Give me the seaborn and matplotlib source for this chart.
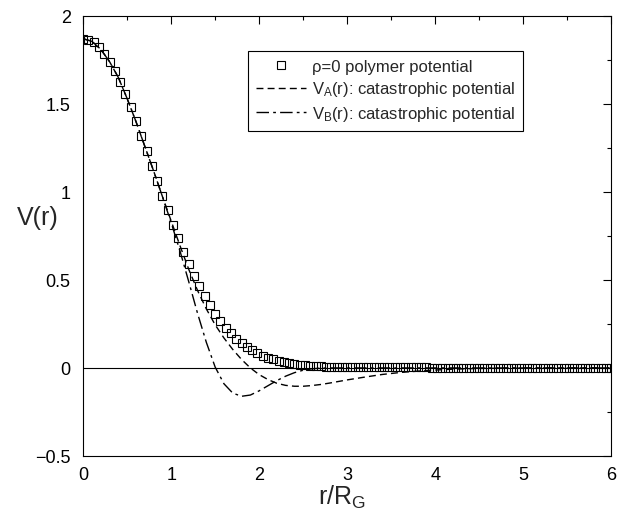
import numpy as np
import matplotlib
matplotlib.use("Agg")
import matplotlib.pyplot as plt
from matplotlib.ticker import MultipleLocator, FuncFormatter
import seaborn as sns

sns.set_theme(style="white")
plt.rcParams['font.family'] = ['Liberation Sans', 'DejaVu Sans']
plt.rcParams['mathtext.fontset'] = 'custom'
plt.rcParams['mathtext.rm'] = 'Liberation Sans'
plt.rcParams['mathtext.default'] = 'regular'

# rho=0 polymer potential (squares), grid step 0.06
r_poly = np.round(np.linspace(0, 6, 101), 2)
v_poly = [1.870, 1.865, 1.849, 1.822, 1.786, 1.740, 1.686, 1.624, 1.555, 1.481,
          1.402, 1.320, 1.235, 1.149, 1.063, 0.978, 0.895, 0.814, 0.736, 0.661,
          0.591, 0.525, 0.464, 0.408, 0.356, 0.309, 0.267, 0.229, 0.196, 0.166,
          0.141, 0.119, 0.100, 0.084, 0.070, 0.058, 0.048, 0.040, 0.033, 0.027,
          0.023, 0.019, 0.016, 0.013, 0.011, 0.009, 0.008, 0.007, 0.006, 0.005,
          0.005, 0.004, 0.004, 0.004, 0.004, 0.004, 0.003, 0.003, 0.003, 0.003,
          0.003, 0.003, 0.003, 0.003, 0.003, 0.003, 0.002, 0.002, 0.002, 0.002,
          0.002, 0.002, 0.002, 0.002, 0.002, 0.002, 0.002, 0.002, 0.002, 0.002,
          0.002, 0.001, 0.001, 0.001, 0.001, 0.001, 0.001, 0.001, 0.001, 0.001,
          0.001, 0.001, 0.001, 0.001, 0.001, 0.001, 0.001, 0.001, 0.001, 0.001,
          0.001]

# catastrophic potentials
r_a = [0.0, 0.1, 0.2, 0.3, 0.4, 0.5, 0.6, 0.7, 0.8, 0.9, 1.0, 1.1, 1.2, 1.3, 1.4,
       1.5, 1.6, 1.7, 1.8, 1.9, 2.0, 2.1, 2.2, 2.3, 2.4, 2.5, 2.6, 2.7, 2.8, 2.9,
       3.0, 3.2, 3.4, 3.6, 3.8, 4.0, 4.2, 4.4, 4.6, 5.0, 5.5, 6.0]
v_a = [1.870, 1.855, 1.810, 1.740, 1.650, 1.530, 1.400, 1.260, 1.120, 0.975,
       0.835, 0.695, 0.560, 0.440, 0.335, 0.245, 0.170, 0.105, 0.048, 0.000,
       -0.038, -0.066, -0.087, -0.099, -0.104, -0.104, -0.100, -0.094, -0.086,
       -0.077, -0.068, -0.052, -0.037, -0.026, -0.018, -0.012, -0.007, -0.004,
       -0.002, -0.001, 0.000, 0.000]

r_b = [0.0, 0.1, 0.2, 0.3, 0.4, 0.5, 0.6, 0.7, 0.8, 0.9, 1.0, 1.1, 1.2, 1.3, 1.4,
       1.5, 1.6, 1.7, 1.8, 1.9, 2.0, 2.1, 2.2, 2.3, 2.4, 2.5, 2.6, 2.7, 2.8, 3.0,
       4.0, 5.0, 6.0]
v_b = [1.870, 1.855, 1.810, 1.740, 1.650, 1.530, 1.400, 1.260, 1.120, 0.975,
       0.825, 0.665, 0.490, 0.310, 0.145, 0.005, -0.090, -0.143, -0.161, -0.154,
       -0.130, -0.101, -0.072, -0.047, -0.027, -0.013, -0.005, -0.001, 0.000,
       0.000, 0.000, 0.000, 0.000]

fig = plt.figure(figsize=(6.25, 5.1), dpi=100)
ax = fig.add_axes([0.133, 0.104, 0.845, 0.863])

ax.axhline(0, color='black', lw=0.8, zorder=1)
sns.lineplot(x=r_poly, y=v_poly, ax=ax, marker='s', linestyle='none', ms=6,
             mfc='none', mec='black', mew=0.8, label=r'ρ=0 polymer potential')
sns.lineplot(x=r_a, y=v_a, ax=ax, color='black', lw=1.0, linestyle=(0, (5, 3)),
             label=r'V$_A$(r): catastrophic potential')
sns.lineplot(x=r_b, y=v_b, ax=ax, color='black', lw=1.0, linestyle=(0, (9, 3, 2, 3)),
             label=r'V$_B$(r): catastrophic potential')

ax.set_xlim(0, 6)
ax.set_ylim(-0.5, 2)
ax.xaxis.set_major_locator(MultipleLocator(1))
ax.xaxis.set_minor_locator(MultipleLocator(0.5))
ax.yaxis.set_major_locator(MultipleLocator(0.5))
ax.yaxis.set_minor_locator(MultipleLocator(0.25))
fmt = FuncFormatter(lambda v, p: ('%g' % v).replace('-', '\u2212'))
ax.xaxis.set_major_formatter(fmt)
ax.yaxis.set_major_formatter(fmt)
ax.tick_params(which='both', direction='in', top=True, right=True, colors='black',
               width=0.8)
ax.tick_params(which='major', length=6, labelsize=13)
ax.tick_params(axis='y', which='major', pad=9)
ax.tick_params(axis='x', which='major', pad=7)
ax.tick_params(which='minor', length=3)
for s in ax.spines.values():
    s.set_color('black')
    s.set_linewidth(0.8)

ax.set_ylabel('V(r)', fontsize=18, rotation=0, ha='right', va='center')
ax.yaxis.set_label_coords(-0.047, 0.543)
ax.set_xlabel(r'r/R$_G$', fontsize=18, va='top')
ax.xaxis.set_label_coords(0.49, -0.062)

leg = ax.legend(loc='upper left', bbox_to_anchor=(0.3125, 0.92), fontsize=12,
                frameon=True, fancybox=False, edgecolor='black', framealpha=1,
                handlelength=3.0, labelspacing=0.35, handletextpad=0.4,
                borderpad=0.45, borderaxespad=0, numpoints=1)
leg.get_frame().set_linewidth(0.8)

fig.savefig('out.png', dpi=100)
